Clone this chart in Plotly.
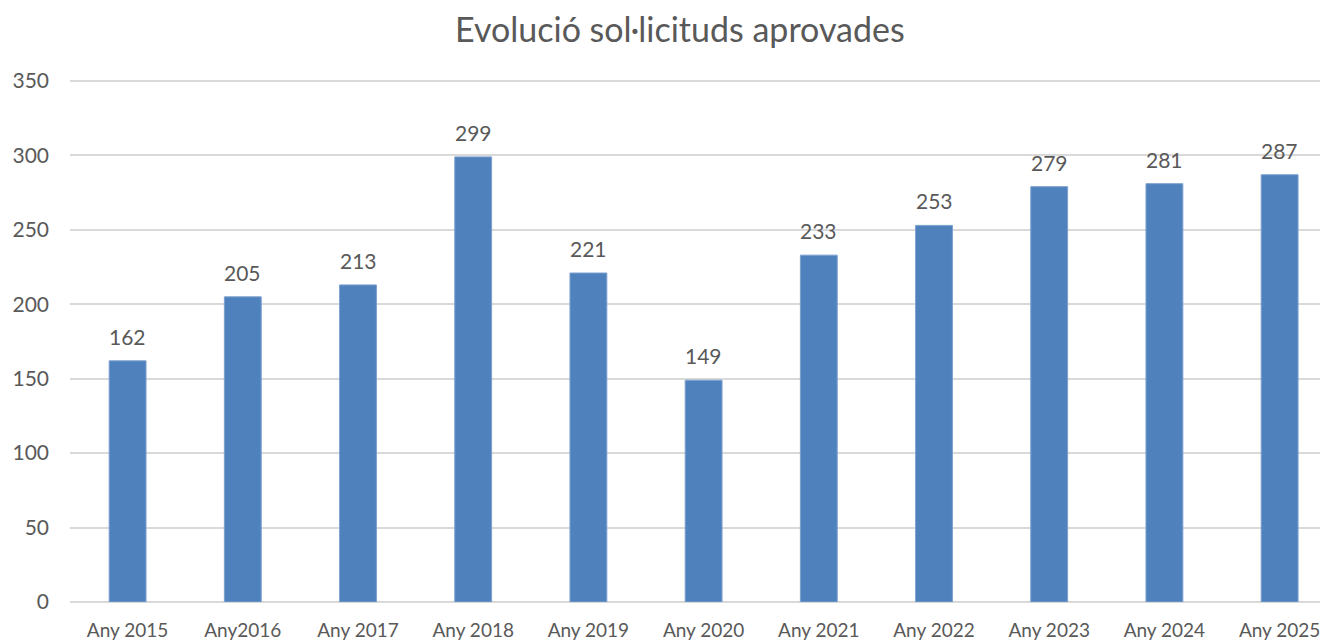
import plotly.graph_objects as go

categories = ["Any 2015", "Any2016", "Any 2017", "Any 2018", "Any 2019", "Any 2020",
              "Any 2021", "Any 2022", "Any 2023", "Any 2024", "Any 2025"]
values = [162, 205, 213, 299, 221, 149, 233, 253, 279, 281, 287]
y_ticks = [0, 50, 100, 150, 200, 250, 300, 350]

FONT = "Lato, Calibri, Carlito, sans-serif"
GREY = "#595959"
xs = list(range(len(categories)))

fig = go.Figure(go.Bar(
    x=xs,
    y=values,
    marker=dict(color="#4F81BD", line=dict(color="#7DA0CF", width=1)),
    width=0.32,
))

for x, v in zip(xs, values):
    fig.add_annotation(x=x, y=v, text=str(v), showarrow=False,
                       yanchor="bottom", yshift=10,
                       font=dict(family=FONT, size=21, color=GREY))

fig.update_layout(
    width=1320, height=636,
    margin=dict(l=62, r=0, t=70, b=42),
    paper_bgcolor="white", plot_bgcolor="white",
    showlegend=False,
    title=dict(text="Evolució sol·licituds aprovades", x=0.509, xanchor="center",
               y=0.966, yanchor="middle", xref="container", yref="container",
               font=dict(family=FONT, size=34, color=GREY)),
    xaxis=dict(range=[-0.5, 10.42], tickmode="array",
               tickvals=xs, ticktext=categories,
               showgrid=False, zeroline=False, showline=False, ticks="",
               ticklabelstandoff=15,
               tickfont=dict(family=FONT, size=19, color=GREY)),
    yaxis=dict(range=[0, 352], tickmode="array", tickvals=y_ticks,
               ticktext=[str(t) for t in y_ticks],
               showgrid=True, gridcolor="#D9D9D9", gridwidth=2,
               zeroline=True, zerolinecolor="#D9D9D9", zerolinewidth=2,
               showline=False, ticks="", ticklabelstandoff=20,
               tickfont=dict(family=FONT, size=21, color=GREY)),
)

fig.write_html("out.html")
